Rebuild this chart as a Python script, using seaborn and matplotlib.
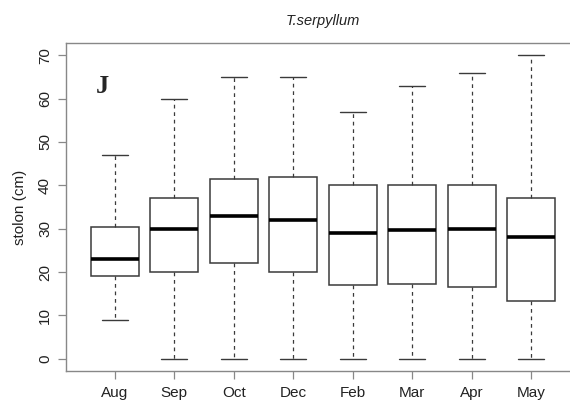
import numpy as np
import pandas as pd
import matplotlib
matplotlib.use("Agg")
import matplotlib.pyplot as plt
import seaborn as sns

# Five-number summaries of stolon length per sampling month
months = ["Aug", "Sep", "Oct", "Dec", "Feb", "Mar", "Apr", "May"]
mins = [9, 0, 0, 0, 0, 0, 0, 0]
q1s = [19, 20, 22, 20, 17, 17.3, 16.6, 13.4]
medians = [23, 30, 33, 32, 29, 29.6, 30, 28]
q3s = [30.5, 37, 41.5, 42, 40, 40, 40, 37]
maxs = [47, 60, 65, 65, 57, 63, 66, 70]
yticks = [0, 10, 20, 30, 40, 50, 60, 70]

rows = []
for m, a, b, c, d, e in zip(months, mins, q1s, medians, q3s, maxs):
    for v in (a, b, c, d, e):
        rows.append({"month": m, "stolon": v})
df = pd.DataFrame(rows)

sns.set_style("white")
plt.rcParams["font.family"] = ["Liberation Sans", "DejaVu Sans"]

fig = plt.figure(figsize=(5.7, 4.03), dpi=100)
ax = fig.add_axes([66 / 570, 1 - 371 / 403, (580 - 66) / 570, (371 - 43) / 403])

sns.boxplot(
    data=df, x="month", y="stolon", order=months, ax=ax,
    whis=(0, 100), width=0.8, color="white", linecolor="#222222",
    linewidth=1.0, fliersize=0,
    boxprops=dict(facecolor="white", edgecolor="#3a3a3a", linewidth=1.1),
    medianprops=dict(color="black", linewidth=2.6),
    whiskerprops=dict(color="#3a3a3a", linewidth=0.9, linestyle=(0, (3, 3))),
    capprops=dict(color="#3a3a3a", linewidth=1.0),
)

# Staples a little over half the box width, as in base-R boxplots
for line in ax.lines:
    xd = np.asarray(line.get_xdata(), dtype=float)
    yd = np.asarray(line.get_ydata(), dtype=float)
    if len(xd) == 2 and yd[0] == yd[1] and line.get_linewidth() < 2 and xd[0] != xd[1]:
        c = xd.mean()
        line.set_xdata([c - 0.22, c + 0.22])

ax.set_xlim(-0.82, 7.82)
ax.set_ylim(-2.8, 72.8)
ax.set_yticks(yticks)
ax.set_yticklabels([str(t) for t in yticks], rotation=90, va="center")
ax.set_xlabel("")
ax.set_ylabel("stolon (cm)", fontsize=11, color="#222222", labelpad=8)
ax.tick_params(axis="both", direction="out", length=6, width=0.9,
               color="#888888", labelsize=11, labelcolor="#222222", pad=4)
ax.tick_params(axis="x", pad=5)
ax.tick_params(bottom=True, left=True)
for name, s in ax.spines.items():
    s.set_color("#888888")
    s.set_linewidth(1.0)
    s.set_visible(name != "right")

ax.set_title("T.serpyllum", fontsize=10.5, style="italic", color="#222222", pad=13)
ax.text(-0.2, 62.8, "J", fontsize=19, fontweight="bold",
        family=["Liberation Serif", "DejaVu Serif"], ha="center", va="center")

fig.savefig("out.png", dpi=100)
